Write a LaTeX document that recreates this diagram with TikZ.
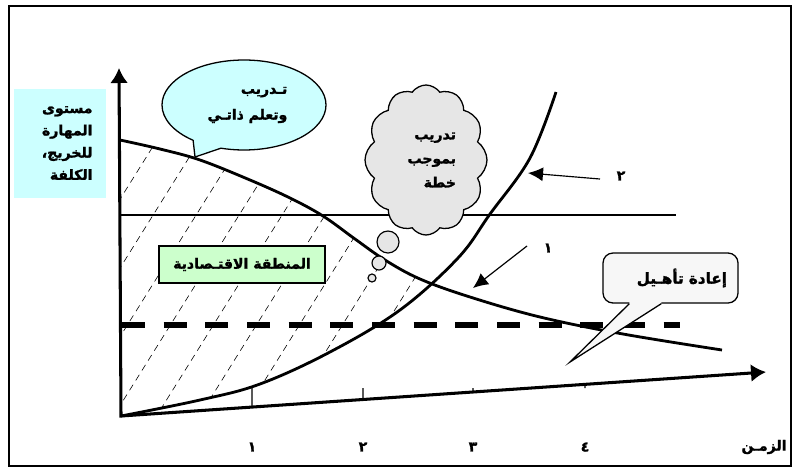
\documentclass[tikz,border=0pt]{standalone}
\usepackage{fontspec}
\usepackage{xcolor}
\usepackage{tikz}
\usetikzlibrary{shapes,shapes.callouts,shapes.symbols,arrows.meta,positioning,calc}
\TeXXeTstate=1
\newfontfamily\arabicfont[Script=Arabic, FakeBold=1.6]{DejaVu Sans}
\newcommand{\artxt}[1]{{\arabicfont\bfseries\beginR #1\endR}}
\definecolor{skycyan}{HTML}{CCFFFF}
\definecolor{cloudgray}{HTML}{E6E6E6}
\definecolor{zonegreen}{HTML}{CCFFCC}
\definecolor{notegray}{HTML}{F7F7F7}

\begin{document}
\begin{tikzpicture}[
    x=0.03cm, y=-0.03cm,
    font=\fontsize{12}{19}\selectfont,
    axisline/.style={line width=2.6pt, {Latex[length=0.45cm, width=0.54cm]}-{Latex[length=0.45cm, width=0.54cm]}},
    curveline/.style={line width=2.4pt},
    hatchline/.style={line width=0.5pt, dash pattern=on 0.2cm off 0.15cm},
    ptrline/.style={line width=1pt, -{Latex[length=0.45cm, width=0.42cm]}},
    tickline/.style={line width=1pt},
    ylabbox/.style={fill=skycyan, text width=1.95cm, align=right, inner xsep=0.405cm, minimum height=3.27cm},
    selfbubble/.style={ellipse callout, draw, line width=1.1pt, fill=skycyan, minimum width=4.92cm, minimum height=2.7cm, inner sep=0pt, text width=2.6cm, align=right, callout pointer arc=22, font=\fontsize{12}{22}\selectfont},
    planbubble/.style={cloud, cloud puffs=12, cloud puff arc=110, aspect=0.8, draw, line width=1.1pt, fill=cloudgray, minimum width=3.66cm, minimum height=4.5cm, inner sep=0pt, text width=1.8cm, align=right, font=\fontsize{12}{20.5}\selectfont},
    thinkdot/.style={circle, draw, line width=1pt, fill=cloudgray, inner sep=0pt},
    zonebox/.style={draw, line width=1.5pt, fill=zonegreen, minimum width=4.98cm, minimum height=1.11cm},
    notebox/.style={draw, line width=1.1pt, fill=notegray, rounded corners=0.3cm, text width=3.39cm, align=right, inner xsep=0.33cm, minimum height=1.5cm, font=\fontsize{13}{19}\selectfont}
]
    \useasboundingbox (0,0) rectangle (795,470);
    \draw[line width=2.5pt] (9,6) rectangle (791,466);

    % axis label
    \node (ylab) [ylabbox] at (60,143) {\artxt{مستوى}\\\artxt{المهارة}\\\artxt{للخريج،}\\\artxt{الكلفة}};

    % economic zone hatching
    \begin{scope}
        \clip plot[smooth, tension=0.6] coordinates {(120,140) (160,149) (200,160) (250,180) (290,198) (323,216) (355,239) (385,260) (420,279) (470,297) (540,317) (623,334) (722,350)} -- (722,420) -- (121,420) -- cycle;
        \clip plot[smooth, tension=0.6] coordinates {(121,416) (200,400) (260,384) (330,352) (400,310) (458,258) (490,214) (530,158) (556,92)} -- (121,60) -- cycle;
        \foreach \hx in {-61,-18,...,450}
            \draw[hatchline] (\hx,420) -- ++(175,-280);
    \end{scope}

    \draw[line width=1pt] (121,215) -- (676,215);
    \draw[line width=4.5pt, dash pattern=on 0.69cm off 0.56cm] (122,325) -- (680,325);

    % curves 1 and 2
    \draw[curveline] plot[smooth, tension=0.6] coordinates {(120,140) (160,149) (200,160) (250,180) (290,198) (323,216) (355,239) (385,260) (420,279) (470,297) (540,317) (623,334) (722,350)};
    \draw[curveline] plot[smooth, tension=0.6] coordinates {(121,416) (200,400) (260,384) (330,352) (400,310) (458,258) (490,214) (530,158) (556,92)};

    % axes
    \coordinate (orig) at (121,416);
    \coordinate (ytop) at (119,68);
    \coordinate (xend) at (766,372);
    \draw[axisline] (ytop) -- (orig) -- (xend);
    \foreach \tx/\tl [count=\ti] in {252/١, 363/٢, 473/٣, 585/٤} {
        \draw[tickline] (\tx,388) -- ($(orig)!{(\tx-121)/645}!(xend)$);
        \node (tick\ti) at (\tx,447) {\artxt{\tl}};
    }
    \node (timelab) at (764,447) {\artxt{الزمـن}};

    \node (zone) [zonebox] at (242,264.5) {\artxt{المنطقة الاقتـصادية}};

    % callouts
    \coordinate (selftip) at (195,157);
    \node (self) [selfbubble, callout absolute pointer=(selftip)] at (244,105) {\artxt{تـدريب}\\\artxt{وتعلم ذاتـي}};
    \node (plan) [planbubble] at (426,160) {\artxt{تدريب}\\\artxt{بموجب}\\\artxt{خطة}};
    \node (thinkA) [thinkdot, minimum size=0.66cm] at (388,242) {};
    \node (thinkB) [thinkdot, minimum size=0.42cm] at (379,263) {};
    \node (thinkC) [thinkdot, minimum size=0.24cm] at (372,278) {};

    \node (rehab) [notebox] at (670.5,278) {\artxt{إعادة تأهـيل}};
    \coordinate (rehabtip) at (570,362);
    \fill[notegray] ($(rehab.south west)+(27,-1.5)$) -- ($(rehab.south west)+(27,0)$) -- (rehabtip) -- ($(rehab.south west)+(59,0)$) -- ($(rehab.south west)+(59,-1.5)$) -- cycle;
    \draw[line width=1.1pt] ($(rehab.south west)+(27,0)$) -- (rehabtip) -- ($(rehab.south west)+(59,0)$);

    % pointers to the curves
    \node (labtwo) at (621,176) {\artxt{٢}};
    \node (labone) at (548,248) {\artxt{١}};
    \coordinate (twotail) at ($(labtwo)+(-21,3)$);
    \coordinate (twotip) at (528,173);
    \coordinate (onetail) at ($(labone)+(-21,-2)$);
    \coordinate (onetip) at (473,288);
    \draw[ptrline] (twotail) -- (twotip);
    \draw[ptrline] (onetail) -- (onetip);
\end{tikzpicture}
\end{document}
